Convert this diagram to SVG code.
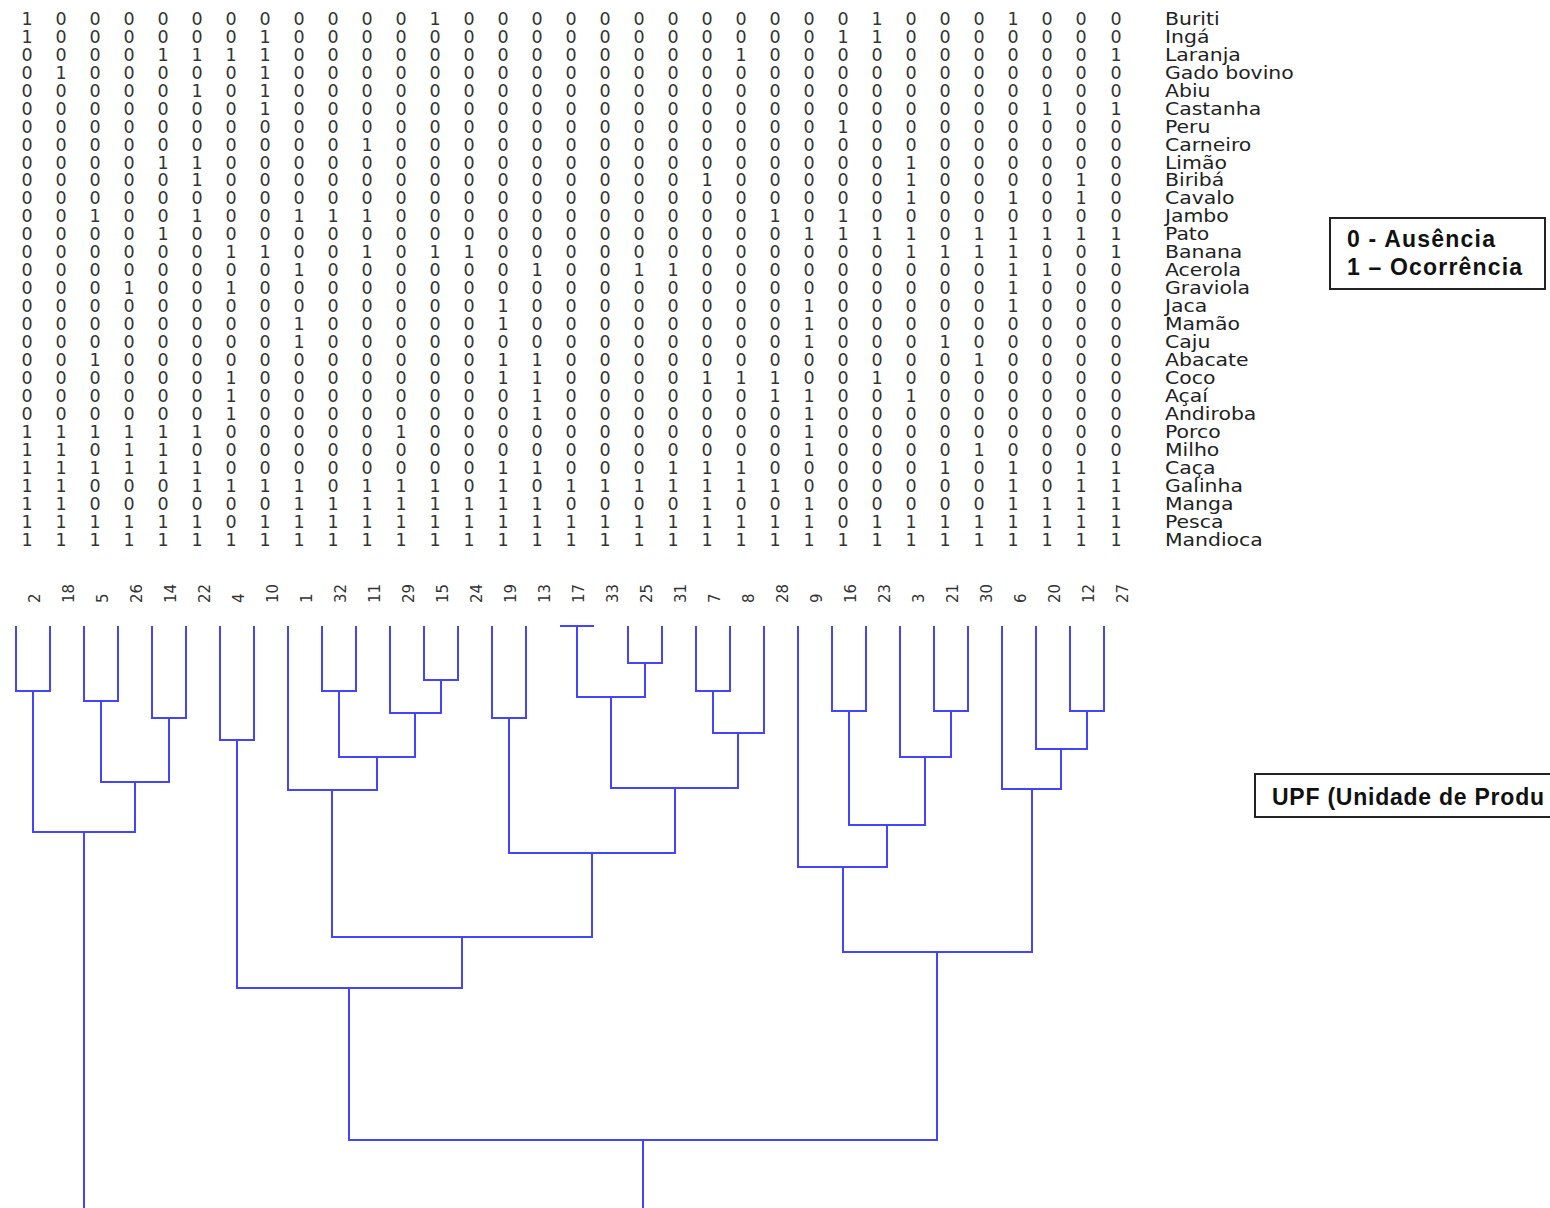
<svg xmlns="http://www.w3.org/2000/svg" width="1550" height="1208" viewBox="0 0 1550 1208">
<style>
.d{font-family:"DejaVu Sans",Verdana,sans-serif;font-size:17.5px;fill:#333;text-anchor:middle}
.sp{font-family:"DejaVu Sans",Verdana,sans-serif;font-size:17px;fill:#222}
.cl{font-family:"DejaVu Sans",Verdana,sans-serif;font-size:15px;fill:#333}
.dg{fill:none;stroke:#4444ff;stroke-width:2}
.box{fill:#fff;stroke:#222;stroke-width:2}
.lg{font-family:"Liberation Sans",Arial,sans-serif;font-weight:bold;font-size:23px;fill:#111}
</style>
<rect width="1550" height="1208" fill="#fff"/>
<g id="matrix">
<text class="d" y="25" x="27 61 95 129 163 197 231 265 299 333 367 401 435 469 503 537 571 605 639 673 707 741 775 809 843 877 911 945 979 1013 1047 1081 1116">100000000000100000000000010001000</text>
<text class="d" y="43" x="27 61 95 129 163 197 231 265 299 333 367 401 435 469 503 537 571 605 639 673 707 741 775 809 843 877 911 945 979 1013 1047 1081 1116">100000010000000000000000110000000</text>
<text class="d" y="61" x="27 61 95 129 163 197 231 265 299 333 367 401 435 469 503 537 571 605 639 673 707 741 775 809 843 877 911 945 979 1013 1047 1081 1116">000011110000000000000100000000001</text>
<text class="d" y="79" x="27 61 95 129 163 197 231 265 299 333 367 401 435 469 503 537 571 605 639 673 707 741 775 809 843 877 911 945 979 1013 1047 1081 1116">010000010000000000000000000000000</text>
<text class="d" y="97" x="27 61 95 129 163 197 231 265 299 333 367 401 435 469 503 537 571 605 639 673 707 741 775 809 843 877 911 945 979 1013 1047 1081 1116">000001010000000000000000000000000</text>
<text class="d" y="115" x="27 61 95 129 163 197 231 265 299 333 367 401 435 469 503 537 571 605 639 673 707 741 775 809 843 877 911 945 979 1013 1047 1081 1116">000000010000000000000000000000101</text>
<text class="d" y="133" x="27 61 95 129 163 197 231 265 299 333 367 401 435 469 503 537 571 605 639 673 707 741 775 809 843 877 911 945 979 1013 1047 1081 1116">000000000000000000000000100000000</text>
<text class="d" y="151" x="27 61 95 129 163 197 231 265 299 333 367 401 435 469 503 537 571 605 639 673 707 741 775 809 843 877 911 945 979 1013 1047 1081 1116">000000000010000000000000000000000</text>
<text class="d" y="169" x="27 61 95 129 163 197 231 265 299 333 367 401 435 469 503 537 571 605 639 673 707 741 775 809 843 877 911 945 979 1013 1047 1081 1116">000011000000000000000000001000000</text>
<text class="d" y="186" x="27 61 95 129 163 197 231 265 299 333 367 401 435 469 503 537 571 605 639 673 707 741 775 809 843 877 911 945 979 1013 1047 1081 1116">000001000000000000001000001000010</text>
<text class="d" y="204" x="27 61 95 129 163 197 231 265 299 333 367 401 435 469 503 537 571 605 639 673 707 741 775 809 843 877 911 945 979 1013 1047 1081 1116">000000000000000000000000001001010</text>
<text class="d" y="222" x="27 61 95 129 163 197 231 265 299 333 367 401 435 469 503 537 571 605 639 673 707 741 775 809 843 877 911 945 979 1013 1047 1081 1116">001001001110000000000010100000000</text>
<text class="d" y="240" x="27 61 95 129 163 197 231 265 299 333 367 401 435 469 503 537 571 605 639 673 707 741 775 809 843 877 911 945 979 1013 1047 1081 1116">000010000000000000000001111011111</text>
<text class="d" y="258" x="27 61 95 129 163 197 231 265 299 333 367 401 435 469 503 537 571 605 639 673 707 741 775 809 843 877 911 945 979 1013 1047 1081 1116">000000110010110000000000001111001</text>
<text class="d" y="276" x="27 61 95 129 163 197 231 265 299 333 367 401 435 469 503 537 571 605 639 673 707 741 775 809 843 877 911 945 979 1013 1047 1081 1116">000000001000000100110000000001100</text>
<text class="d" y="294" x="27 61 95 129 163 197 231 265 299 333 367 401 435 469 503 537 571 605 639 673 707 741 775 809 843 877 911 945 979 1013 1047 1081 1116">000100100000000000000000000001000</text>
<text class="d" y="312" x="27 61 95 129 163 197 231 265 299 333 367 401 435 469 503 537 571 605 639 673 707 741 775 809 843 877 911 945 979 1013 1047 1081 1116">000000000000001000000001000001000</text>
<text class="d" y="330" x="27 61 95 129 163 197 231 265 299 333 367 401 435 469 503 537 571 605 639 673 707 741 775 809 843 877 911 945 979 1013 1047 1081 1116">000000001000001000000001000000000</text>
<text class="d" y="348" x="27 61 95 129 163 197 231 265 299 333 367 401 435 469 503 537 571 605 639 673 707 741 775 809 843 877 911 945 979 1013 1047 1081 1116">000000001000000000000001000100000</text>
<text class="d" y="366" x="27 61 95 129 163 197 231 265 299 333 367 401 435 469 503 537 571 605 639 673 707 741 775 809 843 877 911 945 979 1013 1047 1081 1116">001000000000001100000000000010000</text>
<text class="d" y="384" x="27 61 95 129 163 197 231 265 299 333 367 401 435 469 503 537 571 605 639 673 707 741 775 809 843 877 911 945 979 1013 1047 1081 1116">000000100000001100001110010000000</text>
<text class="d" y="402" x="27 61 95 129 163 197 231 265 299 333 367 401 435 469 503 537 571 605 639 673 707 741 775 809 843 877 911 945 979 1013 1047 1081 1116">000000100000000100000011001000000</text>
<text class="d" y="420" x="27 61 95 129 163 197 231 265 299 333 367 401 435 469 503 537 571 605 639 673 707 741 775 809 843 877 911 945 979 1013 1047 1081 1116">000000100000000100000001000000000</text>
<text class="d" y="438" x="27 61 95 129 163 197 231 265 299 333 367 401 435 469 503 537 571 605 639 673 707 741 775 809 843 877 911 945 979 1013 1047 1081 1116">111111000001000000000001000000000</text>
<text class="d" y="456" x="27 61 95 129 163 197 231 265 299 333 367 401 435 469 503 537 571 605 639 673 707 741 775 809 843 877 911 945 979 1013 1047 1081 1116">110110000000000000000001000010000</text>
<text class="d" y="474" x="27 61 95 129 163 197 231 265 299 333 367 401 435 469 503 537 571 605 639 673 707 741 775 809 843 877 911 945 979 1013 1047 1081 1116">111111000000001100011100000101011</text>
<text class="d" y="492" x="27 61 95 129 163 197 231 265 299 333 367 401 435 469 503 537 571 605 639 673 707 741 775 809 843 877 911 945 979 1013 1047 1081 1116">110001111011101011111110000001011</text>
<text class="d" y="510" x="27 61 95 129 163 197 231 265 299 333 367 401 435 469 503 537 571 605 639 673 707 741 775 809 843 877 911 945 979 1013 1047 1081 1116">110000001111111100001001000001111</text>
<text class="d" y="528" x="27 61 95 129 163 197 231 265 299 333 367 401 435 469 503 537 571 605 639 673 707 741 775 809 843 877 911 945 979 1013 1047 1081 1116">111111011111111111111111011111111</text>
<text class="d" y="546" x="27 61 95 129 163 197 231 265 299 333 367 401 435 469 503 537 571 605 639 673 707 741 775 809 843 877 911 945 979 1013 1047 1081 1116">111111111111111111111111111111111</text>
</g>
<g id="species" transform="translate(1165,0) scale(1.2,1)">
<text class="sp" x="0" y="25">Buriti</text>
<text class="sp" x="0" y="43">Ingá</text>
<text class="sp" x="0" y="61">Laranja</text>
<text class="sp" x="0" y="79">Gado bovino</text>
<text class="sp" x="0" y="97">Abiu</text>
<text class="sp" x="0" y="115">Castanha</text>
<text class="sp" x="0" y="133">Peru</text>
<text class="sp" x="0" y="151">Carneiro</text>
<text class="sp" x="0" y="169">Limão</text>
<text class="sp" x="0" y="186">Biribá</text>
<text class="sp" x="0" y="204">Cavalo</text>
<text class="sp" x="0" y="222">Jambo</text>
<text class="sp" x="0" y="240">Pato</text>
<text class="sp" x="0" y="258">Banana</text>
<text class="sp" x="0" y="276">Acerola</text>
<text class="sp" x="0" y="294">Graviola</text>
<text class="sp" x="0" y="312">Jaca</text>
<text class="sp" x="0" y="330">Mamão</text>
<text class="sp" x="0" y="348">Caju</text>
<text class="sp" x="0" y="366">Abacate</text>
<text class="sp" x="0" y="384">Coco</text>
<text class="sp" x="0" y="402">Açaí</text>
<text class="sp" x="0" y="420">Andiroba</text>
<text class="sp" x="0" y="438">Porco</text>
<text class="sp" x="0" y="456">Milho</text>
<text class="sp" x="0" y="474">Caça</text>
<text class="sp" x="0" y="492">Galinha</text>
<text class="sp" x="0" y="510">Manga</text>
<text class="sp" x="0" y="528">Pesca</text>
<text class="sp" x="0" y="546">Mandioca</text>
</g>
<g id="leaf-labels">
<text class="cl" transform="translate(40,603) rotate(-90)">2</text>
<text class="cl" transform="translate(74,603) rotate(-90)">18</text>
<text class="cl" transform="translate(108,603) rotate(-90)">5</text>
<text class="cl" transform="translate(142,603) rotate(-90)">26</text>
<text class="cl" transform="translate(176,603) rotate(-90)">14</text>
<text class="cl" transform="translate(210,603) rotate(-90)">22</text>
<text class="cl" transform="translate(244,603) rotate(-90)">4</text>
<text class="cl" transform="translate(278,603) rotate(-90)">10</text>
<text class="cl" transform="translate(312,603) rotate(-90)">1</text>
<text class="cl" transform="translate(346,603) rotate(-90)">32</text>
<text class="cl" transform="translate(380,603) rotate(-90)">11</text>
<text class="cl" transform="translate(414,603) rotate(-90)">29</text>
<text class="cl" transform="translate(448,603) rotate(-90)">15</text>
<text class="cl" transform="translate(482,603) rotate(-90)">24</text>
<text class="cl" transform="translate(516,603) rotate(-90)">19</text>
<text class="cl" transform="translate(550,603) rotate(-90)">13</text>
<text class="cl" transform="translate(584,603) rotate(-90)">17</text>
<text class="cl" transform="translate(618,603) rotate(-90)">33</text>
<text class="cl" transform="translate(652,603) rotate(-90)">25</text>
<text class="cl" transform="translate(686,603) rotate(-90)">31</text>
<text class="cl" transform="translate(720,603) rotate(-90)">7</text>
<text class="cl" transform="translate(754,603) rotate(-90)">8</text>
<text class="cl" transform="translate(788,603) rotate(-90)">28</text>
<text class="cl" transform="translate(822,603) rotate(-90)">9</text>
<text class="cl" transform="translate(856,603) rotate(-90)">16</text>
<text class="cl" transform="translate(890,603) rotate(-90)">23</text>
<text class="cl" transform="translate(924,603) rotate(-90)">3</text>
<text class="cl" transform="translate(958,603) rotate(-90)">21</text>
<text class="cl" transform="translate(992,603) rotate(-90)">30</text>
<text class="cl" transform="translate(1026,603) rotate(-90)">6</text>
<text class="cl" transform="translate(1060,603) rotate(-90)">20</text>
<text class="cl" transform="translate(1094,603) rotate(-90)">12</text>
<text class="cl" transform="translate(1128,603) rotate(-90)">27</text>
</g>
<g id="connectors" class="dg">
<path d="M16 626V691H50V626"/>
<path d="M84 626V701H118V626"/>
<path d="M152 626V718H186V626"/>
<path d="M101 701V782H169V718"/>
<path d="M33 691V832H135V782"/>
<path d="M220 626V740H254V626"/>
<path d="M322 626V691H356V626"/>
<path d="M424 626V680H458V626"/>
<path d="M390 626V713H441V680"/>
<path d="M339 691V757H415V713"/>
<path d="M288 626V790H377V757"/>
<path d="M492 626V718H526V626"/>
<path d="M560 626H594"/>
<path d="M628 626V663H662V626"/>
<path d="M577 626V697H645V663"/>
<path d="M696 626V691H730V626"/>
<path d="M713 691V733H764V626"/>
<path d="M611 697V788H738V733"/>
<path d="M509 718V853H675V788"/>
<path d="M332 790V937H592V853"/>
<path d="M237 740V988H462V937"/>
<path d="M832 626V711H866V626"/>
<path d="M934 626V711H968V626"/>
<path d="M900 626V757H951V711"/>
<path d="M849 711V825H925V757"/>
<path d="M798 626V867H887V825"/>
<path d="M1070 626V711H1104V626"/>
<path d="M1036 626V749H1087V711"/>
<path d="M1002 626V789H1061V749"/>
<path d="M843 867V952H1032V789"/>
<path d="M349 988V1140H937V952"/>
<path d="M84 832V1214H643V1140"/>
</g>
<g id="legend">
<rect class="box" x="1330" y="218" width="215" height="71"/>
<text class="lg" x="1347" y="247" textLength="148" lengthAdjust="spacing">0 - Ausência</text>
<text class="lg" x="1347" y="275" textLength="175" lengthAdjust="spacing">1 – Ocorrência</text>
</g>
<g id="upf">
<rect class="box" x="1255" y="774" width="310" height="43"/>
<text class="lg" x="1272" y="805" font-size="21" textLength="272" lengthAdjust="spacing">UPF (Unidade de Produ</text>
</g>
</svg>
